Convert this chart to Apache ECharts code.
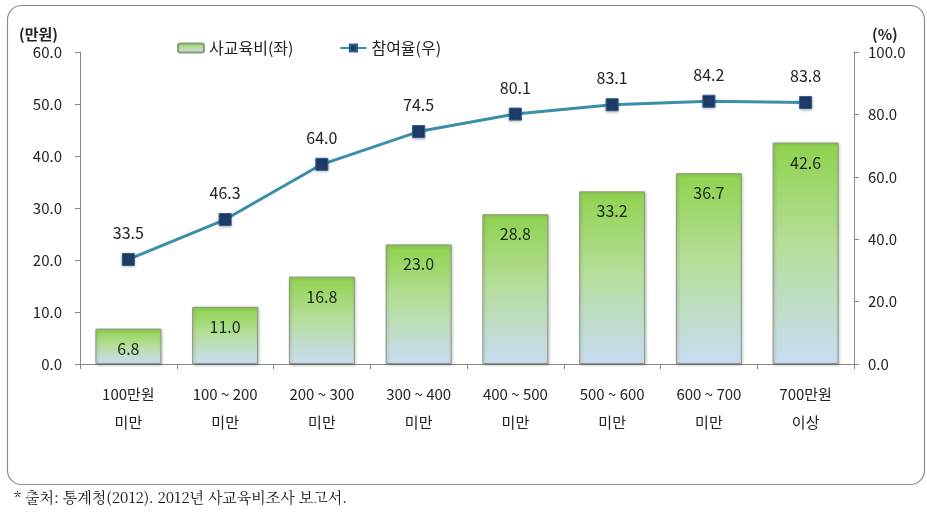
<!DOCTYPE html>
<html><head><meta charset="utf-8">
<script src="https://cdn.jsdelivr.net/npm/echarts@6/dist/echarts.min.js"></script>
<style>html,body{margin:0;padding:0;background:#fff}#c{width:927px;height:515px}</style>
</head><body><div id="c"></div>
<script>
const categories = ['100만원\n미만','100 ~ 200\n미만','200 ~ 300\n미만','300 ~ 400\n미만','400 ~ 500\n미만','500 ~ 600\n미만','600 ~ 700\n미만','700만원\n이상'];
const spending = [6.8, 11.0, 16.8, 23.0, 28.8, 33.2, 36.7, 42.6];
const participation = [33.5, 46.3, 64.0, 74.5, 80.1, 83.1, 84.2, 83.8];
const leftTicks = {min: 0, max: 60, interval: 10};
const rightTicks = {min: 0, max: 100, interval: 20};

const FONT = '"Noto Sans CJK KR", "Noto Sans", sans-serif';
const chart = echarts.init(document.getElementById('c'), null, {renderer: 'canvas'});
chart.setOption({
  animation: false,
  textStyle: {fontFamily: FONT},
  graphic: [
    {type: 'rect', left: 5, top: 3, shape: {width: 917, height: 479, r: 14}, style: {fill: 'none', stroke: '#8c8c8c', lineWidth: 1.2}, z: -1},
    {type: 'text', left: 14, top: 490, style: {text: '* 출처: 통계청(2012). 2012년 사교육비조사 보고서.', font: '15px "Noto Serif CJK KR", "Noto Sans CJK KR", serif', fill: '#111'}}
  ],
  legend: {
    left: 172, top: 35, itemGap: 46, itemWidth: 26, itemHeight: 9,
    textStyle: {fontSize: 16, color: '#222', fontFamily: FONT},
    data: ['사교육비(좌)', '참여율(우)']
  },
  grid: {left: 80, right: 73, top: 52, bottom: 151, containLabel: false},
  xAxis: {
    type: 'category', data: categories,
    axisLine: {lineStyle: {color: '#888'}},
    axisTick: {show: true, alignWithLabel: false, length: 5, lineStyle: {color: '#888'}},
    axisLabel: {color: '#222', fontSize: 15, lineHeight: 28, margin: 16, interval: 0}
  },
  yAxis: [
    {type: 'value', min: leftTicks.min, max: leftTicks.max, interval: leftTicks.interval,
     name: '(만원)', nameLocation: 'end', nameGap: 10,
     nameTextStyle: {fontSize: 15, fontWeight: 'bold', color: '#222', align: 'right', padding: [0, 22, 0, 0]},
     axisLine: {show: true, lineStyle: {color: '#888'}},
     axisTick: {show: true, length: 5, lineStyle: {color: '#888'}},
     splitLine: {show: false},
     axisLabel: {color: '#222', fontSize: 15, margin: 18, formatter: v => v.toFixed(1)}},
    {type: 'value', min: rightTicks.min, max: rightTicks.max, interval: rightTicks.interval,
     name: '(%)', nameLocation: 'end', nameGap: 10,
     nameTextStyle: {fontSize: 15, fontWeight: 'bold', color: '#222', align: 'left', padding: [0, 0, 0, 18]},
     axisLine: {show: true, lineStyle: {color: '#888'}},
     axisTick: {show: true, length: 5, lineStyle: {color: '#888'}},
     splitLine: {show: false},
     axisLabel: {color: '#222', fontSize: 15, margin: 14, formatter: v => v.toFixed(1)}}
  ],
  series: [
    {
      name: '사교육비(좌)', type: 'bar', yAxisIndex: 0, data: spending, barWidth: 66,
      itemStyle: {
        color: new echarts.graphic.LinearGradient(0, 0, 0, 1, [
          {offset: 0, color: '#8fd24e'}, {offset: 0.45, color: '#b4de96'}, {offset: 1, color: '#cadcf4'}
        ]),
        borderColor: '#8a9a80', borderWidth: 1,
        shadowColor: 'rgba(0,0,0,0.25)', shadowBlur: 3, shadowOffsetX: 1, shadowOffsetY: 1
      },
      label: {show: true, position: 'insideTop', distance: 12, color: '#1a2a1a', fontSize: 16, formatter: p => p.value.toFixed(1)}
    },
    {
      name: '참여율(우)', type: 'line', yAxisIndex: 1, data: participation,
      symbol: 'rect', symbolSize: 12,
      lineStyle: {color: '#3a8ea8', width: 3},
      itemStyle: {color: '#1f3d6b', borderColor: '#2f5f8f', borderWidth: 1, shadowColor: 'rgba(0,0,0,0.3)', shadowBlur: 3, shadowOffsetY: 1},
      label: {show: true, position: 'top', distance: 12, color: '#222', fontSize: 16, formatter: p => p.value.toFixed(1)},
      z: 5
    }
  ]
});
</script></body></html>
